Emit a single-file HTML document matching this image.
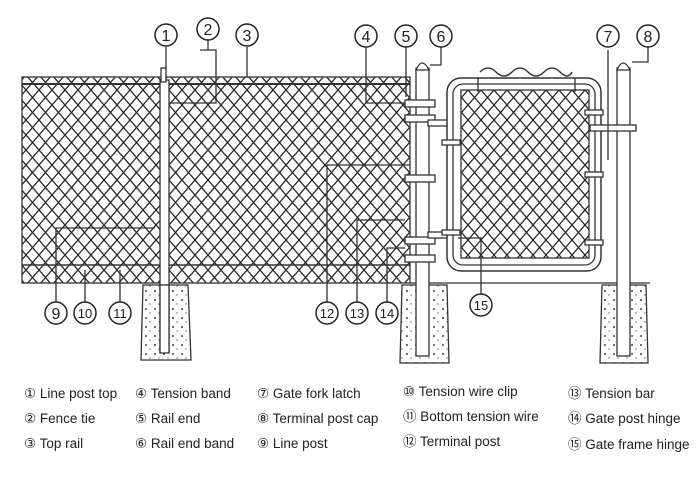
<!DOCTYPE html>
<html><head><meta charset="utf-8"><style>
body{margin:0;background:#fff;width:700px;height:500px;overflow:hidden}
svg{display:block}
text{font-family:"Liberation Sans Narrow","Liberation Sans",sans-serif;fill:#222}
</style></head><body>
<svg width="700" height="500" viewBox="0 0 700 500" xmlns="http://www.w3.org/2000/svg">
<defs>
<pattern id="m" width="13" height="15" patternUnits="userSpaceOnUse">
<path d="M0 0L13 15M13 0L0 15" stroke="#2a2a2a" stroke-width="1.3" fill="none"/>
</pattern>
<pattern id="c" width="9" height="9" patternUnits="userSpaceOnUse">
<circle cx="2" cy="3" r="1" fill="#444"/><circle cx="6" cy="7" r="0.7" fill="#666"/>
</pattern>
</defs>
<g stroke="#333" fill="none" stroke-width="1.3">
<rect x="22" y="77" width="388" height="206" fill="url(#m)"/>
<line x1="22" y1="84" x2="410" y2="84" stroke-width="2"/>
<line x1="22" y1="265" x2="410" y2="265" stroke-width="1.5"/>
<rect x="160" y="80" width="9" height="272" fill="#fff"/>
<rect x="161" y="68" width="5" height="14" fill="#fff"/>
<path d="M143 285H188L191 360H141Z" fill="url(#c)"/>
<path d="M402 285H447L449 363H400Z" fill="url(#c)"/>
<path d="M602 285H646L648 363H600Z" fill="url(#c)"/>
<rect x="160" y="285" width="9" height="68" fill="#fff"/>
<line x1="410" y1="283" x2="650" y2="283"/>
<rect x="416" y="68" width="13" height="288" fill="#fff"/>
<path d="M416 70Q422 56 429 70Z" fill="#fff"/>
<rect x="405" y="100" width="30" height="7" fill="#fff"/>
<rect x="405" y="115" width="30" height="7" fill="#fff"/>
<rect x="405" y="175" width="30" height="7" fill="#fff"/>
<rect x="405" y="237" width="30" height="7" fill="#fff"/>
<rect x="405" y="255" width="30" height="7" fill="#fff"/>
<rect x="428" y="120" width="30" height="6" fill="#fff"/>
<rect x="428" y="232" width="30" height="6" fill="#fff"/>
<rect x="447" y="78" width="154" height="193" rx="14" fill="#fff" stroke-width="1.5"/>
<rect x="453" y="84" width="142" height="181" rx="10"/>
<rect x="461" y="90" width="128" height="168" fill="url(#m)"/>
<path d="M480 72q8-8 16 0t16 0t16 0t16 0t16 0t12 0" stroke-width="1.5"/>
<line x1="478" y1="78" x2="478" y2="92"/><line x1="575" y1="78" x2="575" y2="92"/>
<rect x="442" y="140" width="18" height="5" fill="#fff"/>
<rect x="442" y="230" width="18" height="5" fill="#fff"/>
<rect x="585" y="110" width="18" height="5" fill="#fff"/>
<rect x="585" y="172" width="18" height="5" fill="#fff"/>
<rect x="585" y="240" width="18" height="5" fill="#fff"/>
<rect x="617" y="68" width="13" height="288" fill="#fff"/>
<path d="M617 70Q623 56 630 70Z" fill="#fff"/>
<rect x="590" y="125" width="46" height="6" fill="#fff"/>
<line x1="608" y1="50" x2="608" y2="160"/>
<path d="M166 47V70M200 50H216V103H170M208 40V50M247 47V77M366 47V103H405M406 47V97M441 47V65H430M648 47V62H632"/>
<path d="M56 302V228H155M85 302V270M120 302V270M327 302V165H410M357 302V220H405M387 302V248H405M481 294V238H458"/>
</g>
<g fill="#fff" stroke="#222" stroke-width="1.5">
<circle cx="166" cy="35" r="11"/><circle cx="208" cy="29" r="11"/><circle cx="247" cy="35" r="11"/>
<circle cx="366" cy="36" r="11"/><circle cx="406" cy="36" r="11"/><circle cx="441" cy="36" r="11"/>
<circle cx="608" cy="36" r="11"/><circle cx="648" cy="36" r="11"/>
<circle cx="56" cy="313" r="11"/><circle cx="85" cy="313" r="11"/><circle cx="120" cy="313" r="11"/>
<circle cx="327" cy="313" r="11"/><circle cx="357" cy="313" r="11"/><circle cx="387" cy="313" r="11"/>
<circle cx="481" cy="305" r="11"/>
</g>
<g font-size="16" text-anchor="middle">
<text x="166" y="41">1</text><text x="208" y="35">2</text><text x="247" y="41">3</text>
<text x="366" y="42">4</text><text x="406" y="42">5</text><text x="441" y="42">6</text>
<text x="608" y="42">7</text><text x="648" y="42">8</text>
<text x="56" y="319">9</text><text x="85" y="318" font-size="13">10</text><text x="120" y="318" font-size="13">11</text>
<text x="327" y="318" font-size="13">12</text><text x="357" y="318" font-size="13">13</text><text x="387" y="318" font-size="13">14</text>
<text x="481" y="310" font-size="13">15</text>
</g>
<g font-size="13.5">
<text x="24" y="398">① Line post top</text>
<text x="24" y="423">② Fence tie</text>
<text x="24" y="448">③ Top rail</text>
<text x="135" y="398">④ Tension band</text>
<text x="135" y="423">⑤ Rail end</text>
<text x="135" y="448">⑥ Rail end band</text>
<text x="257" y="398">⑦ Gate fork latch</text>
<text x="257" y="423">⑧ Terminal post cap</text>
<text x="257" y="448">⑨ Line post</text>
<text x="403" y="396">⑩ Tension wire clip</text>
<text x="403" y="421">⑪ Bottom tension wire</text>
<text x="403" y="446">⑫ Terminal post</text>
<text x="568" y="398">⑬ Tension bar</text>
<text x="568" y="423">⑭ Gate post hinge</text>
<text x="568" y="449">⑮ Gate frame hinge</text>
</g>
</svg>
</body></html>
